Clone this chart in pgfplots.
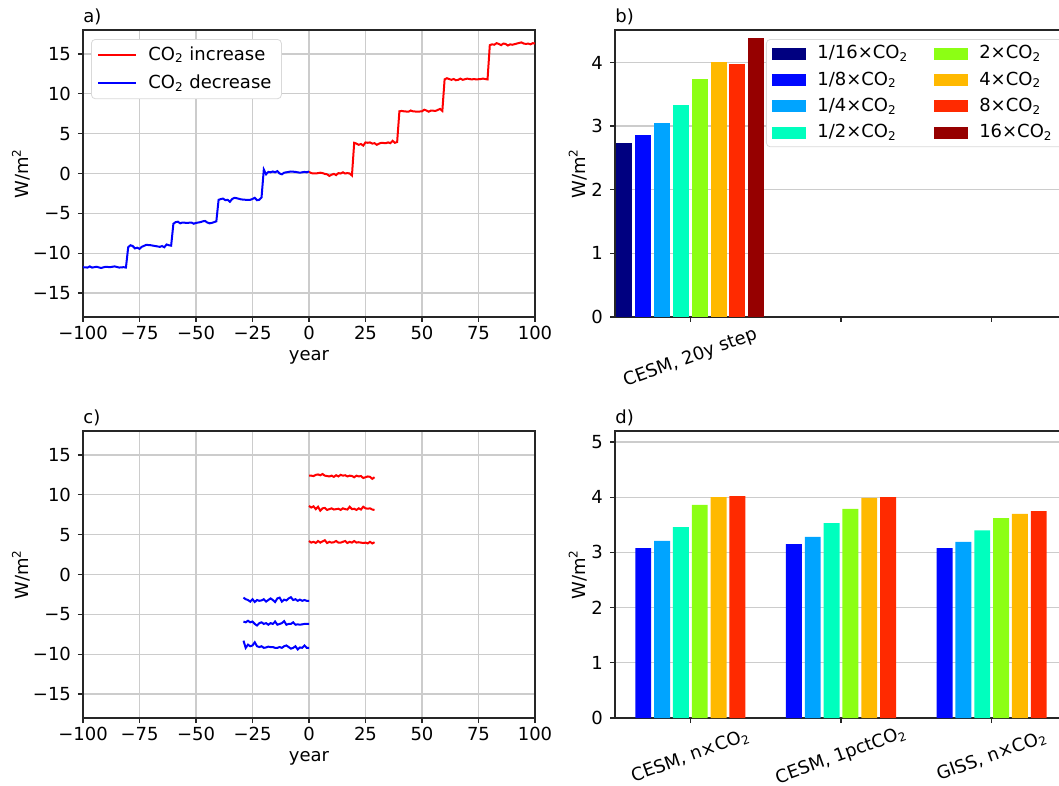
\documentclass[border=0pt]{standalone}
\usepackage{fontspec}
\setmainfont{DejaVu Sans}
\usepackage{pgfplots}
\pgfplotsset{compat=1.18}
\definecolor{c1}{RGB}{0,0,128}
\definecolor{c2}{RGB}{0,8,255}
\definecolor{c3}{RGB}{0,164,255}
\definecolor{c4}{RGB}{0,255,190}
\definecolor{c5}{RGB}{140,255,20}
\definecolor{c6}{RGB}{255,185,0}
\definecolor{c7}{RGB}{255,42,0}
\definecolor{c8}{RGB}{150,0,0}
\pgfplotsset{
  mpl/.style={scale only axis, width=226pt, height=143.5pt,
    font=\fontsize{9}{11}\selectfont,
    tick pos=left, tick align=outside, major tick length=2.5pt,
    axis line style={black!85, line width=0.6pt},
    tick style={black!85, line width=0.6pt},
    grid style={gray!40, line width=0.6pt},
    /pgf/number format/assume math mode=true,
    every axis title/.style={at={(axis description cs:0,1)}, anchor=south west, inner sep=0pt, yshift=2.5pt},
  },
  barleg/.style={legend image code/.code={\fill[##1, sharp corners] (0pt,-3pt) rectangle (17pt,3pt);}},
  lineleg/.style={legend image code/.code={\draw[##1, line width=1pt, sharp corners] (0pt,0pt) -- (19pt,0pt);}},
}
\begin{document}
\begin{tikzpicture}
\useasboundingbox (0,0) rectangle (529.5pt,-393pt);
% ---------------- a)
\begin{axis}[mpl, at={(41.5pt,-15pt)}, anchor=north west,
  xmin=-100, xmax=100, ymin=-18, ymax=18,
  xtick={-100,-75,-50,-25,0,25,50,75,100},
  xticklabels={−100,−75,−50,−25,0,25,50,75,100},
  xticklabel style={yshift=1.5pt},
  ytick={-15,-10,-5,0,5,10,15},
  yticklabels={−15,−10,−5,0,5,10,15},
  grid=major, xlabel={year}, ylabel={W/m\textsuperscript{2}}, title={a)},
  xlabel style={at={(axis description cs:0.5,-0.142)}, anchor=center},
  ylabel style={at={(axis description cs:-0.137,0.5)}, anchor=center},
  legend style={at={(0.0177,0.9686)}, anchor=north west, draw=gray!30, rounded corners=2pt,
    fill=white, font=\fontsize{9}{11}\selectfont,
    inner xsep=3pt, inner ysep=1.5pt, row sep=2pt,
    /tikz/every odd column/.append style={column sep=3.5pt}},
  legend cell align=left,
]
\addplot[red, line width=1pt, lineleg] table {
0 0.2
1 0.05
2 0.0
3 0.0
4 0.05
5 0.1
6 0.05
7 -0.05
8 -0.1
9 -0.3
10 -0.15
11 -0.05
12 -0.2
13 0.05
14 0.0
15 0.15
16 0.0
17 0.05
18 0.0
19 -0.25
20 3.85
21 3.75
22 3.6
23 3.7
24 3.5
25 3.9
26 3.85
27 3.9
28 3.75
29 3.8
30 3.6
31 3.75
32 3.85
34 3.8
35 3.9
36 3.8
37 4.1
38 3.85
39 3.95
40 7.8
41 7.85
42 7.8
44 7.75
45 7.9
46 7.8
48 7.75
50 7.8
51 8.0
52 7.9
53 7.75
54 7.9
56 7.85
58 8.1
59 7.85
60 11.8
61 11.95
62 11.85
63 11.75
64 11.85
65 11.7
66 11.75
67 11.9
68 11.75
70 11.9
72 11.8
73 11.85
74 11.8
76 11.85
77 11.9
78 11.85
79 11.8
80 16.1
81 16.2
82 16.15
83 16.35
84 16.25
85 16.1
86 16.3
87 16.25
88 16.05
89 16.2
90 16.15
92 16.3
94 16.45
95 16.3
96 16.25
97 16.3
98 16.2
99 16.35
100 16.3
};
\addlegendentry{CO\textsubscript{2} increase}
\addplot[blue, line width=1pt, lineleg] table {
-100 -11.75
-98 -11.8
-97 -11.65
-96 -11.8
-94 -11.7
-92 -11.85
-90 -11.7
-88 -11.75
-86 -11.65
-84 -11.8
-82 -11.75
-81 -11.8
-80 -9.25
-79 -9.0
-78 -9.1
-77 -9.4
-76 -9.3
-75 -9.45
-74 -9.2
-72 -8.95
-70 -9.0
-68 -9.1
-66 -9.2
-65 -9.1
-64 -9.25
-63 -8.9
-62 -9.0
-61 -9.05
-60 -6.3
-59 -6.1
-58 -6.05
-57 -6.25
-56 -6.15
-54 -6.2
-52 -6.15
-51 -6.3
-50 -6.2
-48 -6.1
-47 -6.0
-46 -5.95
-45 -6.15
-44 -6.25
-43 -6.2
-41 -6.0
-40 -3.3
-39 -3.2
-38 -3.15
-37 -3.35
-36 -3.3
-35 -3.55
-34 -3.2
-33 -3.05
-32 -3.1
-30 -3.25
-28 -3.3
-26 -3.3
-25 -3.2
-24 -3.05
-23 -3.35
-22 -3.3
-21 -3.0
-20 0.5
-19 -0.1
-18 0.2
-17 0.15
-16 0.25
-15 0.15
-14 0.3
-13 0.0
-12 -0.1
-11 0.1
-10 0.15
-8 0.25
-6 0.2
-4 0.1
-3 0.15
-2 0.2
-1 0.15
0 0.25
};
\addlegendentry{CO\textsubscript{2} decrease}
\end{axis}
% ---------------- b)
\begin{axis}[mpl, at={(307.5pt,-15pt)}, anchor=north west,
  xmin=-0.5, xmax=2.5, ymin=0, ymax=4.51,
  xtick={0,1,2}, xticklabels={{CESM, 20y step},{},{}},
  xticklabel style={yshift=-18pt, rotate=20, anchor=center},
  ytick={0,1,2,3,4}, ymajorgrids, title={b)},
  ylabel={W/m\textsuperscript{2}},
  ylabel style={at={(axis description cs:-0.082,0.5)}, anchor=center},
  legend columns=4, transpose legend,
  legend style={at={(0.334,0.9686)}, anchor=north west, draw=gray!30, rounded corners=2pt,
    fill=white, font=\fontsize{9}{11}\selectfont,
    inner xsep=3pt, inner ysep=1pt, row sep=1pt,
    /tikz/every odd column/.append style={column sep=3.5pt},
    /tikz/every even column/.append style={column sep=11pt}},
  legend cell align=left,
]
\addplot[ybar, bar width=0.106, bar shift=-0.4375, fill=c1, draw=none, barleg] coordinates {(0,2.73)};
\addlegendentry{1/16×CO\textsubscript{2}}
\addplot[ybar, bar width=0.106, bar shift=-0.3125, fill=c2, draw=none, barleg] coordinates {(0,2.86)};
\addlegendentry{1/8×CO\textsubscript{2}}
\addplot[ybar, bar width=0.106, bar shift=-0.1875, fill=c3, draw=none, barleg] coordinates {(0,3.05)};
\addlegendentry{1/4×CO\textsubscript{2}}
\addplot[ybar, bar width=0.106, bar shift=-0.0625, fill=c4, draw=none, barleg] coordinates {(0,3.33)};
\addlegendentry{1/2×CO\textsubscript{2}}
\addplot[ybar, bar width=0.106, bar shift=0.0625, fill=c5, draw=none, barleg] coordinates {(0,3.74)};
\addlegendentry{2×CO\textsubscript{2}}
\addplot[ybar, bar width=0.106, bar shift=0.1875, fill=c6, draw=none, barleg] coordinates {(0,4.00)};
\addlegendentry{4×CO\textsubscript{2}}
\addplot[ybar, bar width=0.106, bar shift=0.3125, fill=c7, draw=none, barleg] coordinates {(0,3.97)};
\addlegendentry{8×CO\textsubscript{2}}
\addplot[ybar, bar width=0.106, bar shift=0.4375, fill=c8, draw=none, barleg] coordinates {(0,4.38)};
\addlegendentry{16×CO\textsubscript{2}}
\end{axis}
% ---------------- c)
\begin{axis}[mpl, at={(41.5pt,-215.5pt)}, anchor=north west,
  xmin=-100, xmax=100, ymin=-18, ymax=18,
  xtick={-100,-75,-50,-25,0,25,50,75,100},
  xticklabels={−100,−75,−50,−25,0,25,50,75,100},
  xticklabel style={yshift=1.5pt},
  ytick={-15,-10,-5,0,5,10,15},
  yticklabels={−15,−10,−5,0,5,10,15},
  grid=major, xlabel={year}, ylabel={W/m\textsuperscript{2}}, title={c)},
  xlabel style={at={(axis description cs:0.5,-0.142)}, anchor=center},
  ylabel style={at={(axis description cs:-0.137,0.5)}, anchor=center},
]
\addplot[red, line width=1pt] table {
0 12.4
1 12.4
2 12.35
3 12.5
4 12.55
5 12.45
6 12.6
7 12.4
8 12.35
9 12.3
10 12.4
11 12.25
12 12.45
13 12.3
14 12.5
15 12.4
16 12.45
17 12.3
18 12.4
19 12.35
20 12.2
21 12.4
22 12.3
23 12.35
24 12.1
25 12.2
26 12.3
27 12.25
28 12.0
29 12.2
};
\addplot[red, line width=1pt] table {
0 8.6
1 8.4
2 8.55
3 8.2
4 8.5
5 8.0
6 8.3
7 8.35
8 8.1
9 8.2
10 8.3
11 8.15
12 8.2
13 8.25
14 8.1
15 8.3
16 8.2
17 8.15
18 8.5
19 8.2
20 8.25
21 8.1
22 8.3
23 8.15
24 8.5
25 8.3
26 8.25
27 8.3
28 8.15
29 8.1
};
\addplot[red, line width=1pt] table {
0 4.2
1 4.0
2 4.1
3 3.95
4 4.2
5 4.0
6 4.15
7 4.3
8 3.95
9 4.1
10 4.0
11 4.05
12 4.2
13 4.0
14 4.0
15 4.1
16 4.2
17 3.95
18 4.1
19 4.0
20 4.2
21 4.0
22 4.05
23 4.0
24 3.95
25 4.0
26 3.9
27 4.1
28 3.9
29 4.05
};
\addplot[blue, line width=1pt] table {
-29 -2.9
-28 -3.1
-27 -3.2
-26 -3.4
-25 -3.1
-24 -3.45
-23 -3.2
-22 -3.3
-21 -3.25
-20 -3.1
-19 -3.4
-18 -3.2
-17 -3.0
-16 -3.2
-15 -3.45
-14 -3.0
-13 -2.9
-12 -3.4
-11 -3.15
-10 -3.25
-9 -3.0
-8 -2.85
-7 -3.2
-6 -3.1
-5 -3.3
-4 -3.15
-3 -3.3
-2 -3.2
-1 -3.3
0 -3.3
};
\addplot[blue, line width=1pt] table {
-29 -5.9
-28 -6.0
-27 -5.8
-26 -6.0
-25 -5.9
-24 -6.2
-23 -6.4
-22 -6.1
-21 -6.0
-20 -6.2
-19 -6.1
-18 -6.3
-17 -6.1
-16 -6.2
-15 -5.9
-14 -6.3
-13 -6.2
-12 -6.1
-11 -5.85
-10 -6.3
-9 -6.2
-8 -6.2
-7 -6.0
-6 -6.3
-5 -6.25
-4 -6.3
-3 -6.25
-2 -6.2
-1 -6.2
0 -6.2
};
\addplot[blue, line width=1pt] table {
-29 -8.3
-28 -9.2
-27 -8.8
-26 -9.0
-25 -8.9
-24 -8.5
-23 -9.0
-22 -9.1
-21 -9.0
-20 -9.2
-19 -9.15
-18 -9.05
-17 -9.1
-16 -9.1
-15 -9.2
-14 -9.2
-13 -9.1
-12 -9.2
-11 -9.0
-10 -8.9
-9 -9.1
-8 -9.3
-7 -9.2
-6 -9.0
-5 -9.4
-4 -9.15
-3 -9.2
-2 -8.9
-1 -9.2
0 -9.2
};
\end{axis}
% ---------------- d)
\begin{axis}[mpl, at={(307.5pt,-215.5pt)}, anchor=north west,
  xmin=-0.5, xmax=2.5, ymin=0, ymax=5.2,
  xtick={0,1,2},
  xticklabels={{CESM, n×CO\textsubscript{2}},{CESM, 1pctCO\textsubscript{2}},{GISS, n×CO\textsubscript{2}}},
  xticklabel style={yshift=-16.5pt, rotate=20, anchor=center},
  ytick={0,1,2,3,4,5}, ymajorgrids, title={d)},
  ylabel={W/m\textsuperscript{2}},
  ylabel style={at={(axis description cs:-0.082,0.5)}, anchor=center},
]
\addplot[ybar, bar width=0.106, bar shift=-0.3125, fill=c2, draw=none] coordinates {(0,3.08) (1,3.15) (2,3.08)};
\addplot[ybar, bar width=0.106, bar shift=-0.1875, fill=c3, draw=none] coordinates {(0,3.21) (1,3.28) (2,3.19)};
\addplot[ybar, bar width=0.106, bar shift=-0.0625, fill=c4, draw=none] coordinates {(0,3.46) (1,3.53) (2,3.40)};
\addplot[ybar, bar width=0.106, bar shift=0.0625, fill=c5, draw=none] coordinates {(0,3.86) (1,3.79) (2,3.62)};
\addplot[ybar, bar width=0.106, bar shift=0.1875, fill=c6, draw=none] coordinates {(0,4.00) (1,3.99) (2,3.70)};
\addplot[ybar, bar width=0.106, bar shift=0.3125, fill=c7, draw=none] coordinates {(0,4.02) (1,4.00) (2,3.75)};
\end{axis}
\end{tikzpicture}
\end{document}
